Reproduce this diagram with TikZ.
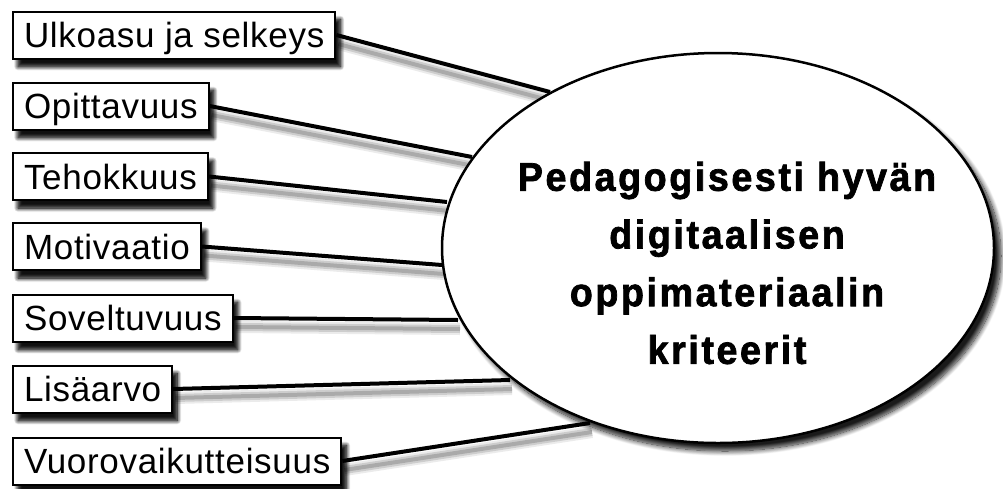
\documentclass[tikz,border=0pt]{standalone}
\usepackage{fontspec}
\setmainfont{Liberation Sans}
\newfontfamily\critfam[LetterSpace=2]{Liberation Sans}
\newfontfamily\titlefam[LetterSpace=6.5,FakeBold=1.8,FakeStretch=0.94]{Liberation Sans}
\newcommand\critfont{\critfam\fontsize{35}{38}\selectfont}
\newcommand\titlefont{\titlefam\bfseries\fontsize{40}{57.7}\selectfont}
\usetikzlibrary{shapes.geometric,shadows.blur}
\tikzset{
  crit/.style={draw, line width=2pt, fill=white, anchor=west,
    minimum height=47pt, inner xsep=11pt, inner ysep=0pt,
    text height=25pt, text depth=0pt, font=\critfont,
    blur shadow={shadow xshift=5pt, shadow yshift=-8pt,
      shadow blur radius=4pt, shadow blur steps=10, shadow opacity=75}},
  lshadow/.style={preaction={draw=black, opacity=0.08, line width=12pt,
      transform canvas={shift={(2pt,-9pt)}}},
    preaction={draw=black, opacity=0.13, line width=8pt,
      transform canvas={shift={(2pt,-9pt)}}},
    preaction={draw=black, opacity=0.17, line width=4pt,
      transform canvas={shift={(2pt,-9pt)}}}},
  conn/.style={lshadow, line width=4pt, black},
  hub/.style={ellipse, draw, line width=2.5pt, fill=white,
    minimum width=552pt, minimum height=390pt,
    blur shadow={shadow xshift=7pt, shadow yshift=-8pt,
      shadow blur radius=5pt, shadow blur steps=12, shadow opacity=90}},
  title/.style={align=center, font=\titlefont, inner sep=0pt}
}
\begin{document}
\begin{tikzpicture}[x=1pt, y=-1pt]
\useasboundingbox (0,0) rectangle (1003,488);
% criteria boxes (named first so connectors can refer to them; drawn over lines later)
\path (12,35)    node[crit] (b1) {Ulkoasu ja selkeys};
\path (12,106)   node[crit] (b2) {Opittavuus};
\path (12,176.5) node[crit] (b3) {Tehokkuus};
\path (12,246.5) node[crit] (b4) {Motivaatio};
\path (12,318)   node[crit] (b5) {Soveltuvuus};
\path (12,389)   node[crit] (b6) {Lisäarvo};
\path (12,461)   node[crit] (b7) {Vuorovaikutteisuus};
% end points on the ellipse
\coordinate (e1) at (550,92);
\coordinate (e2) at (472,157);
\coordinate (e3) at (447,202);
\coordinate (e4) at (442,265);
\coordinate (e5) at (458,320);
\coordinate (e6) at (510,380);
\coordinate (e7) at (590,423);
% connectors
\draw[conn] (b1.east) -- (e1);
\draw[conn] (b2.east) -- (e2);
\draw[conn] (b3.east) -- (e3);
\draw[conn] (b4.east) -- (e4);
\draw[conn] (b5.east) -- (e5);
\draw[conn] (b6.east) -- (e6);
\draw[conn] (b7.east) -- (e7);
% redraw boxes above the connector shadows
\path (12,35)    node[crit] {Ulkoasu ja selkeys};
\path (12,106)   node[crit] {Opittavuus};
\path (12,176.5) node[crit] {Tehokkuus};
\path (12,246.5) node[crit] {Motivaatio};
\path (12,318)   node[crit] {Soveltuvuus};
\path (12,389)   node[crit] {Lisäarvo};
\path (12,461)   node[crit] {Vuorovaikutteisuus};
% central ellipse
\node[hub] (E) at (718,248) {};
\node[title] (T) at (727,263) {Pedagogisesti hyvän\\digitaalisen\\oppimateriaalin\\kriteerit};
\end{tikzpicture}
\end{document}
